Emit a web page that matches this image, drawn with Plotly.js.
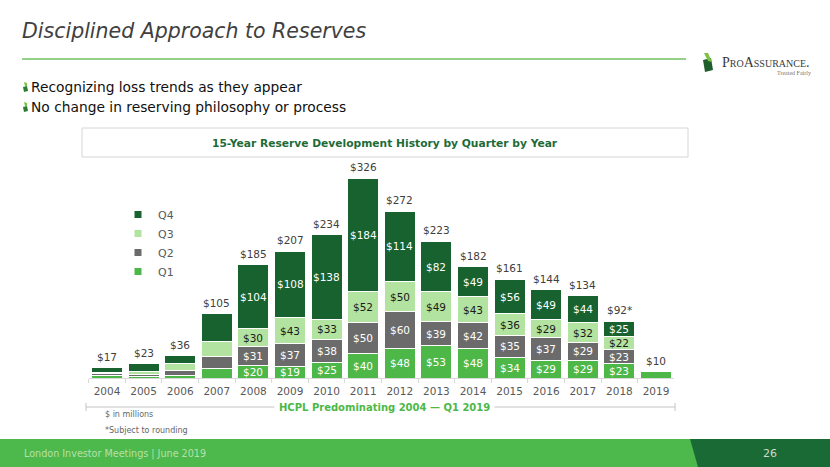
<!DOCTYPE html>
<html><head><meta charset="utf-8">
<script src="https://cdn.plot.ly/plotly-3.0.1.min.js"></script>
<style>html,body{margin:0;padding:0;background:#fff;} #chart{width:830px;height:467px;}</style>
</head><body><div id="chart"></div>
<script>
const years = ['2004','2005','2006','2007','2008','2009','2010','2011','2012','2013','2014','2015','2016','2017','2018','2019'];
const q1 = [4, 2, 4, 15, 20, 19, 25, 40, 48, 53, 48, 34, 29, 29, 23, 10];
const q2 = [3, 4, 8, 20, 31, 37, 38, 50, 60, 39, 42, 35, 37, 29, 23, 0];
const q3 = [2, 4, 11, 25, 30, 43, 33, 52, 50, 49, 43, 36, 29, 32, 22, 0];
const q4 = [8, 13, 13, 45, 104, 108, 138, 184, 114, 82, 49, 56, 49, 44, 25, 0];
const totalLabels = ['$17','$23','$36','$105','$185','$207','$234','$326','$272','$223','$182','$161','$144','$134','$92*','$10'];
const labeledYears = ['2008','2009','2010','2011','2012','2013','2014','2015','2016','2017','2018'];
const seriesNames = ['Q1','Q2','Q3','Q4'];

const colors = {Q1:'#4db848', Q2:'#6b6b6b', Q3:'#b3e3a0', Q4:'#17622f'};
const labelColors = {Q1:'#ffffff', Q2:'#ffffff', Q3:'#1a1a1a', Q4:'#ffffff'};
const FONT = 'Verdana, "DejaVu Sans", sans-serif';
const W = 830, H = 467;
const X = x => x / W;
const Y = y => 1 - y / H;

const series = [q1, q2, q3, q4];
const traces = [];
series.forEach((vals, i) => {
  const name = seriesNames[i];
  traces.push({
    type: 'bar', x: years, y: vals, name: name, showlegend: false,
    marker: {color: colors[name], line: {color: '#ffffff', width: 1}},
    hoverinfo: 'x+y+name'
  });
});
// legend entries (small squares) on a hidden auxiliary axis pair
seriesNames.forEach(name => {
  traces.push({
    type: 'scatter', mode: 'markers', x: [0], y: [-10], name: name, xaxis: 'x2', yaxis: 'y2',
    marker: {symbol: 'square', size: 7, color: colors[name]}, showlegend: true
  });
});

const annotations = [];
// segment labels (x given as category index)
const cum = years.map(() => 0);
series.forEach((vals, i) => {
  const name = seriesNames[i];
  vals.forEach((v, j) => {
    if (labeledYears.includes(years[j]) && v > 0) {
      annotations.push({x: j, y: cum[j] + v / 2, xref: 'x', yref: 'y', text: '$' + v,
        showarrow: false, font: {family: FONT, size: 10.5, color: labelColors[name]}});
    }
    cum[j] += v;
  });
});
// total labels
years.forEach((yr, j) => {
  annotations.push({x: j, y: cum[j], xref: 'x', yref: 'y', text: totalLabels[j], showarrow: false,
    yanchor: 'bottom', yshift: 3, font: {family: FONT, size: 10.5, color: '#404040'}});
});

const pa = (x, y, text, font, opts) => Object.assign({xref: 'paper', yref: 'paper', x: X(x), y: Y(y), text: text,
  showarrow: false, xanchor: 'left', yanchor: 'middle', font: font}, opts || {});

annotations.push(pa(20, 31, '<i>Disciplined Approach to Reserves</i>', {family: FONT, size: 20.5, color: '#404040'}));
annotations.push(pa(29, 87, 'Recognizing loss trends as they appear', {family: FONT, size: 13.8, color: '#111'}));
annotations.push(pa(29, 107, 'No change in reserving philosophy or process', {family: FONT, size: 13.8, color: '#111'}));
annotations.push(pa(385, 143, '<b>15-Year Reserve Development History by Quarter by Year</b>', {family: FONT, size: 10.7, color: '#1e6b38'}, {xanchor: 'center'}));
annotations.push(pa(384, 407, '<b>HCPL Predominating 2004 \u2014 Q1 2019</b>', {family: FONT, size: 10, color: '#4db848'}, {xanchor: 'center', bgcolor: '#ffffff', borderpad: 4}));
annotations.push(pa(103, 414, '$ in millions', {family: FONT, size: 8, color: '#666'}));
annotations.push(pa(103, 430, '*Subject to rounding', {family: FONT, size: 8, color: '#666'}));
annotations.push(pa(22, 453, 'London Investor Meetings | June 2019', {family: '"DejaVu Sans Condensed", "Liberation Sans Narrow", sans-serif', size: 10.7, color: '#b6e0ac'}));
annotations.push(pa(770, 453, '26', {family: FONT, size: 11, color: '#cfd9cf'}, {xanchor: 'center'}));
annotations.push(pa(720, 62, 'ProAssurance.', {family: '"Liberation Serif", serif', size: 14, color: '#3a3a3a', variant: 'small-caps'}));
annotations.push(pa(775, 73, 'Treated Fairly', {family: '"Liberation Serif", serif', size: 6, color: '#777'}));

const poly = (pts, fill) => ({type: 'path', xref: 'paper', yref: 'paper', fillcolor: fill, line: {width: 0},
  path: 'M ' + pts.map(p => X(p[0]) + ' ' + Y(p[1])).join(' L ') + ' Z'});
const line = (x0, y0, x1, y1, color, w) => ({type: 'line', xref: 'paper', yref: 'paper', x0: X(x0), y0: Y(y0), x1: X(x1), y1: Y(y1), line: {color: color, width: w}});

const shapes = [
  line(22, 59, 686, 59, '#6fc060', 1.5),
  {type: 'rect', xref: 'paper', yref: 'paper', x0: X(82), x1: X(688), y0: Y(128), y1: Y(157), line: {color: '#d6d6d6', width: 1}, fillcolor: 'rgba(0,0,0,0)'},
  line(86, 407, 675, 407, '#c4c4c4', 1),
  line(86, 403, 86, 411, '#c4c4c4', 1),
  line(675, 403, 675, 411, '#c4c4c4', 1),
  {type: 'rect', xref: 'paper', yref: 'paper', x0: 0, x1: 1, y0: 0, y1: Y(439), line: {width: 0}, fillcolor: '#4db84b'},
  poly([[690, 439], [830, 439], [830, 467], [698, 467]], '#1a6a36'),
  // logo
  poly([[703, 60], [711, 58], [713, 70], [705, 72]], '#1f5e2c'),
  poly([[704, 53], [708, 53], [712, 62], [708, 61]], '#7cc242'),
  // bullets
  poly([[23, 87], [27, 86], [28, 91], [24, 92]], '#2e7d32'),
  poly([[24, 82], [27, 83], [27, 86], [25, 86]], '#7cc242'),
  poly([[23, 107], [27, 106], [28, 111], [24, 112]], '#2e7d32'),
  poly([[24, 102], [27, 103], [27, 106], [25, 106]], '#7cc242')
];

const layout = {
  width: W, height: H, margin: {l: 0, r: 0, t: 0, b: 0},
  paper_bgcolor: '#ffffff', plot_bgcolor: 'rgba(0,0,0,0)',
  barmode: 'stack', bargap: 0.15,
  font: {family: FONT},
  xaxis: {domain: [88.7 / W, 674.3 / W], type: 'category', range: [-0.5, years.length - 0.5], autorange: false,
    showgrid: false, zeroline: false, tickangle: 0, ticklabelstandoff: 3,
    showline: true, linecolor: '#d9d9d9', ticks: 'outside', tickson: 'boundaries', ticklen: 4, tickcolor: '#d9d9d9',
    tickfont: {family: FONT, size: 10.5, color: '#595959'}, fixedrange: true},
  yaxis: {domain: [Y(378), Y(160)], range: [0, 356], visible: false, fixedrange: true},
  xaxis2: {domain: [0, 0.05], range: [1, 2], visible: false, anchor: 'y2'},
  yaxis2: {domain: [0.95, 1], range: [1, 2], visible: false, anchor: 'x2'},
  showlegend: true,
  legend: {x: X(118), y: Y(200), xanchor: 'left', yanchor: 'top', traceorder: 'reversed',
    font: {family: FONT, size: 11, color: '#595959'}, bgcolor: 'rgba(0,0,0,0)', itemclick: false},
  annotations: annotations, shapes: shapes
};

Plotly.newPlot('chart', traces, layout, {displayModeBar: false, staticPlot: true});
</script></body></html>
